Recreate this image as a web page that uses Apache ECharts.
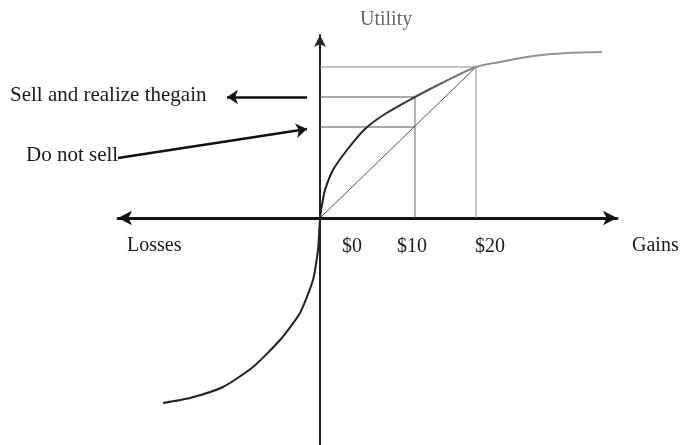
<!DOCTYPE html>
<html>
<head>
<meta charset="utf-8">
<style>
  html, body { margin: 0; padding: 0; background: #ffffff; }
  #chart { width: 684px; height: 445px; }
</style>
<script src="https://cdn.jsdelivr.net/npm/echarts@6/dist/echarts.min.js"></script>
</head>
<body>
<div id="chart"></div>
<script>
// ---- Data (diagram units: origin at the axes crossing) ----
const gainsCurve = [[0,0],[0.1,0.8],[0.2,1.3],[0.5,2.8],[1.3,4.8],[2.7,6.8],[4.5,8.9],[6.5,10.4],[9.5,12.1],[12,13.4],[15.6,15.1],[18,15.6],[21.3,16.2],[24.7,16.5],[28.2,16.6]];
const lossesCurve = [[0,0],[-0.1,-1.7],[-0.2,-3.2],[-0.7,-6.2],[-2,-9.5],[-4,-12.2],[-6.7,-14.9],[-9.7,-16.9],[-13,-18],[-15.7,-18.5]];
const diagonal = [[0,0],[15.6,15.1]];
const gain10 = 9.5;          // x of the "$10" reference line
const gain20 = 15.6;         // x of the "$20" reference line
const utilSell = 12.1;       // utility of realised $10
const utilHold = 9.1;        // utility on the chord at $10
const util20 = 15.1;         // utility of $20
const tickLabels = ['$0', '$10', '$20'];
const tickValues = [3.2, 9.2, 17.0];
const tickLabelLevel = -2.9;
const sellArrow = [[-1.3, 12.1], [-9.3, 12.1]];
const holdArrow = [[-20.2, 6.0], [-1.3, 8.9]];
const annotations = { utility: 'Utility', sell: 'Sell and realize thegain', hold: 'Do not sell', losses: 'Losses', gains: 'Gains' };

const chart = echarts.init(document.getElementById('chart'));
const serif = '"Liberation Serif", "Times New Roman", serif';

function seg(data, color, width) {
  return { type: 'line', data: data, symbol: 'none', silent: true, clip: false, z: 1,
           lineStyle: { color: color, width: width } };
}

chart.setOption({
  animation: false,
  backgroundColor: '#ffffff',
  grid: { left: 118, right: 67, top: 35, bottom: 0, containLabel: false, outerBoundsMode: 'none' },
  xAxis: {
    type: 'value', min: -20.2, max: 29.7,
    splitLine: { show: false },
    axisTick: { show: false },
    axisLabel: { show: false },
    axisLine: { show: true, onZero: true, symbol: ['arrow', 'arrow'], symbolSize: [11, 14],
                lineStyle: { color: '#111', width: 3 } }
  },
  yAxis: {
    type: 'value', min: -22.7, max: 18.3,
    splitLine: { show: false },
    axisTick: { show: false },
    axisLabel: { show: false },
    axisLine: { show: true, onZero: true, symbol: ['none', 'arrow'], symbolSize: [9, 12],
                lineStyle: { color: '#222', width: 2 } }
  },
  series: [
    seg([[0, util20], [gain20, util20]], '#8a8a8a', 1),
    seg([[gain20, util20], [gain20, 0]], '#8a8a8a', 1),
    seg([[0, utilSell], [gain10, utilSell]], '#555', 1),
    seg([[gain10, utilSell], [gain10, 0]], '#666', 1),
    seg([[0, utilHold], [gain10, utilHold]], '#555', 1),
    seg(diagonal, '#555', 1),
    { type: 'line', data: gainsCurve, symbol: 'none', smooth: 0.3, silent: true, clip: false, z: 3,
      lineStyle: { width: 2, color: new echarts.graphic.LinearGradient(0, 0, 1, 0, [
        { offset: 0, color: '#1a1a1a' }, { offset: 0.3, color: '#333' },
        { offset: 0.55, color: '#8a8a8a' }, { offset: 1, color: '#999' }]) } },
    { type: 'line', data: lossesCurve, symbol: 'none', smooth: 0.2, silent: true, clip: false, z: 3,
      lineStyle: { width: 2, color: '#222' } },
    { type: 'lines', coordinateSystem: 'cartesian2d', polyline: false, clip: false, silent: true, z: 4,
      symbol: ['none', 'arrow'], symbolSize: 11,
      lineStyle: { color: '#111', width: 2.5, opacity: 1, curveness: 0 },
      data: [ { coords: sellArrow }, { coords: holdArrow } ] },
    { type: 'scatter', symbolSize: 0, silent: true, z: 5, itemStyle: { opacity: 1 },
      data: tickValues.map(function (v, i) { return { value: [v, tickLabelLevel], name: tickLabels[i] }; }),
      label: { show: true, position: 'inside', formatter: '{b}', fontFamily: serif, fontSize: 20,
               color: '#1a1a1a', textBorderWidth: 0, opacity: 1 } }
  ],
  graphic: [
    { type: 'text', left: 360, top: 10, style: { text: annotations.utility, font: '20px ' + serif, fill: '#666' } },
    { type: 'text', left: 10, top: 85, style: { text: annotations.sell, font: '21px ' + serif, fill: '#1a1a1a' } },
    { type: 'text', left: 26, top: 145, style: { text: annotations.hold, font: '21px ' + serif, fill: '#1a1a1a' } },
    { type: 'text', left: 127, top: 236, style: { text: annotations.losses, font: '20px ' + serif, fill: '#1a1a1a' } },
    { type: 'text', left: 632, top: 236, style: { text: annotations.gains, font: '20px ' + serif, fill: '#1a1a1a' } }
  ]
});
</script>
</body>
</html>
